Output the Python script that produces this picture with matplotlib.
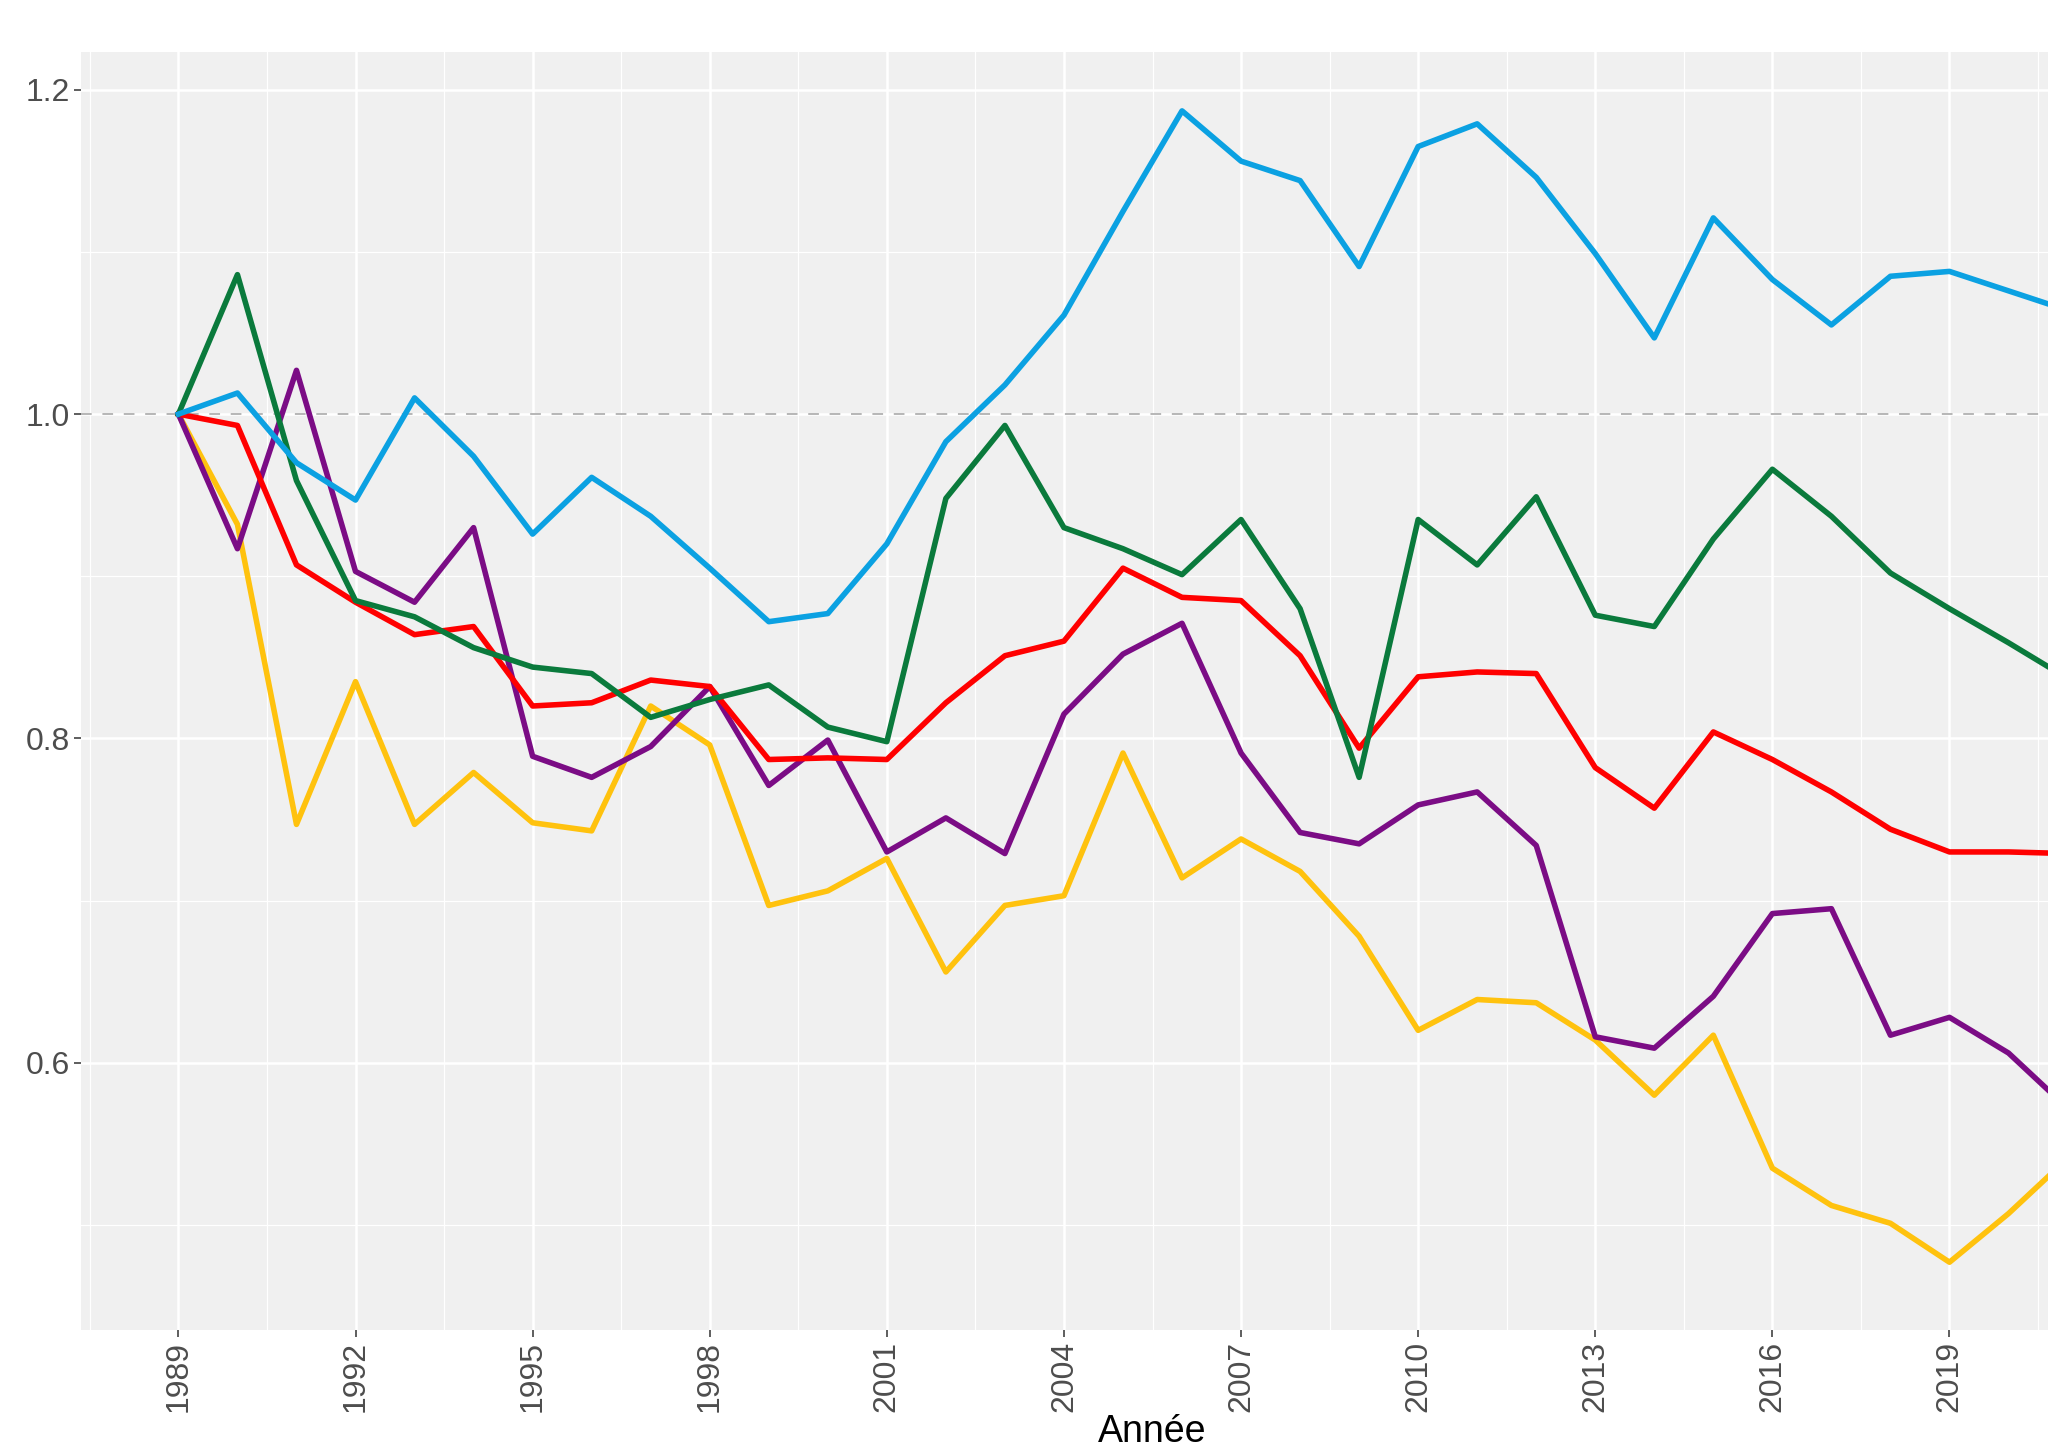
import numpy as np
import matplotlib
matplotlib.use("Agg")
import matplotlib.pyplot as plt
from matplotlib.ticker import FixedLocator

plt.rcParams['font.family'] = ['Liberation Sans', 'DejaVu Sans']

# données (indice base 1989 = 1)
annees = list(range(1989, 2022))

bleu = [1.000, 1.013, 0.970, 0.947, 1.010, 0.974, 0.926, 0.961, 0.937, 0.905,
        0.872, 0.877, 0.920, 0.983, 1.018, 1.061, 1.125, 1.187, 1.156, 1.144,
        1.091, 1.165, 1.179, 1.146, 1.099, 1.047, 1.121, 1.083, 1.055, 1.085,
        1.088, 1.076, 1.064]
vert = [1.000, 1.086, 0.959, 0.885, 0.875, 0.856, 0.844, 0.840, 0.813, 0.824,
        0.833, 0.807, 0.798, 0.948, 0.993, 0.930, 0.917, 0.901, 0.935, 0.880,
        0.776, 0.935, 0.907, 0.949, 0.876, 0.869, 0.923, 0.966, 0.937, 0.902,
        0.880, 0.859, 0.837]
rouge = [1.000, 0.993, 0.907, 0.884, 0.864, 0.869, 0.820, 0.822, 0.836, 0.832,
         0.787, 0.788, 0.787, 0.822, 0.851, 0.860, 0.905, 0.887, 0.885, 0.851,
         0.794, 0.838, 0.841, 0.840, 0.782, 0.757, 0.804, 0.787, 0.767, 0.744,
         0.730, 0.730, 0.729]
violet = [1.000, 0.917, 1.027, 0.903, 0.884, 0.930, 0.789, 0.776, 0.795, 0.832,
          0.771, 0.799, 0.730, 0.751, 0.729, 0.815, 0.852, 0.871, 0.791, 0.742,
          0.735, 0.759, 0.767, 0.734, 0.616, 0.609, 0.641, 0.692, 0.695, 0.617,
          0.628, 0.606, 0.572]
jaune = [1.000, 0.932, 0.747, 0.835, 0.747, 0.779, 0.748, 0.743, 0.820, 0.796,
         0.697, 0.706, 0.726, 0.656, 0.697, 0.703, 0.791, 0.714, 0.738, 0.718,
         0.678, 0.620, 0.639, 0.637, 0.614, 0.580, 0.617, 0.535, 0.512, 0.501,
         0.477, 0.507, 0.541]

series = [(jaune, '#FFC20E'), (violet, '#7B0C85'), (rouge, '#FF0000'),
          (vert, '#0A7A3C'), (bleu, '#0BA1E2')]

W, H = 2048, 1447
fig = plt.figure(figsize=(W / 100, H / 100), dpi=100)
# panneau qui déborde à droite (image recadrée)
left, right, top, bottom = 81, 2224, 52, 1330
ax = fig.add_axes([left / W, 1 - bottom / H, (right - left) / W, (bottom - top) / H])
ax.set_facecolor('#F0F0F0')
for s in ax.spines.values():
    s.set_visible(False)

ax.set_xlim(1987.35, 2023.65)
ax.set_ylim(0.4352, 1.2233)

# seuls les repères visibles dans l'image recadrée
ax.xaxis.set_major_locator(FixedLocator(list(range(1989, 2021, 3))))
ax.xaxis.set_minor_locator(FixedLocator([x + 0.5 for x in range(1987, 2023, 3)]))
ax.yaxis.set_major_locator(FixedLocator([0.6, 0.8, 1.0, 1.2]))
ax.yaxis.set_minor_locator(FixedLocator([0.5, 0.7, 0.9, 1.1]))
ax.grid(which='major', color='white', linewidth=1.8)
ax.grid(which='minor', color='white', linewidth=0.9)
ax.set_axisbelow(True)
# ligne de grille 2022 (hors champ) pour rester fidèle
ax.axvline(2022, color='white', linewidth=1.8, zorder=0.5)

ax.axhline(1.0, color='#A3A3A3', linewidth=1.1, linestyle=(0, (7, 7)), zorder=1)

for vals, col in series:
    ax.plot(annees, vals, color=col, linewidth=4.0, zorder=3)

ax.set_yticklabels(['0.6', '0.8', '1.0', '1.2'])
ax.tick_params(which='major', length=5, width=1.1, color='#333333',
               labelcolor='#4D4D4D', labelsize=23, pad=3)
ax.tick_params(which='minor', length=0)
plt.setp(ax.get_xticklabels(), rotation=90, va='top', ha='center')

ax.set_xlabel('Année', fontsize=27, color='black')
ax.xaxis.set_label_coords(0.5, -0.066)

fig.savefig('out.png', dpi=100)
